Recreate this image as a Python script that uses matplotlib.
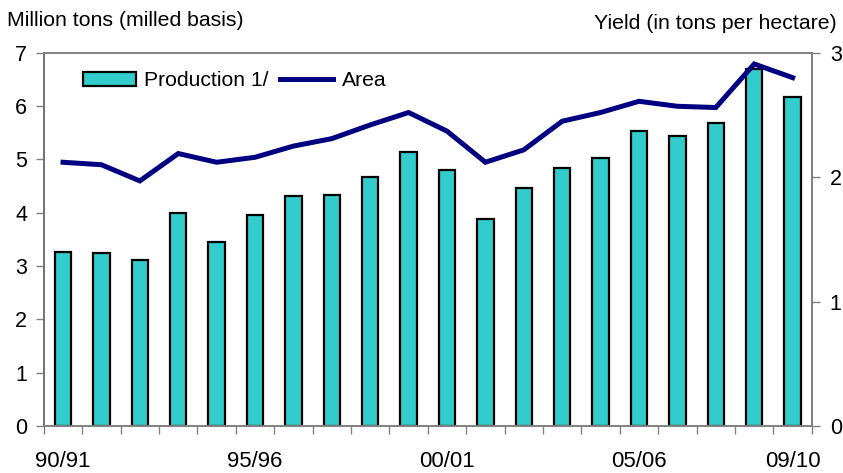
import matplotlib.pyplot as plt
import numpy as np

plt.rcParams['font.family'] = ['Liberation Sans', 'DejaVu Sans']

# marketing years 1990/91 .. 2009/10
years = ["90/91", "91/92", "92/93", "93/94", "94/95", "95/96", "96/97", "97/98",
         "98/99", "99/00", "00/01", "01/02", "02/03", "03/04", "04/05", "05/06",
         "06/07", "07/08", "08/09", "09/10"]
production = [3.26, 3.24, 3.11, 4.00, 3.45, 3.96, 4.31, 4.33, 4.67, 5.14,
              4.80, 3.88, 4.47, 4.84, 5.03, 5.53, 5.44, 5.68, 6.70, 6.18]
yield_t_ha = [2.12, 2.10, 1.97, 2.19, 2.12, 2.16, 2.25, 2.31, 2.42, 2.52,
              2.37, 2.12, 2.22, 2.45, 2.52, 2.61, 2.57, 2.56, 2.91, 2.80]
shown_labels = ["90/91", "95/96", "00/01", "05/06", "09/10"]

bar_color = "#33CCCC"
line_color = "#000080"
grey = "#808080"

fig = plt.figure(figsize=(8.43, 4.73), dpi=100)
ax = fig.add_axes([0.052, 0.0994, 0.911, 0.789])
x = np.arange(len(years))

bars = ax.bar(x, production, width=0.43, color=bar_color,
              edgecolor="black", linewidth=1.6, label="Production 1/", zorder=2)
ax.set_xlim(-0.5, len(years) - 0.5)
ax.set_ylim(0, 7)
ax.set_yticks(range(0, 8))

ax2 = ax.twinx()
line, = ax2.plot(x, yield_t_ha, color=line_color, linewidth=3.6,
                 solid_joinstyle="miter", label="Area")
ax2.set_ylim(0, 3)
ax2.set_yticks(range(0, 4))

# spines and ticks
for a in (ax, ax2):
    for s in a.spines.values():
        s.set_color(grey)
        s.set_linewidth(1.2)
ax.spines["left"].set_color("#222222")
ax.tick_params(axis="y", direction="out", length=6, width=1, color=grey,
               labelsize=15.5, pad=6)
ax2.tick_params(axis="y", direction="out", length=6, width=1, color=grey,
                labelsize=15.5, pad=7)

# ticks between categories, labels on every fifth year
ax.set_xticks(np.arange(len(years) + 1) - 0.5)
ax.set_xticklabels([])
ax.tick_params(axis="x", direction="out", length=6, width=1, color=grey)
for lab in shown_labels:
    i = years.index(lab)
    ax.text(i, -0.66, lab, ha="center", va="center", fontsize=16,
            transform=ax.transData)

fig.text(0.008, 0.956, "Million tons (milled basis)", fontsize=15.3,
         ha="left", va="center")
fig.text(0.992, 0.950, "Yield (in tons per hectare)", fontsize=15.3,
         ha="right", va="center")

leg = ax2.legend([bars, line], ["Production 1/", "Area"], ncol=2,
                 loc="upper left", bbox_to_anchor=(0.051, 0.95),
                 borderaxespad=0, borderpad=0,
                 frameon=False, fontsize=15.2, handlelength=2.5,
                 handleheight=0.65, handletextpad=0.4, columnspacing=0.55)

fig.savefig("out.png", dpi=100)
